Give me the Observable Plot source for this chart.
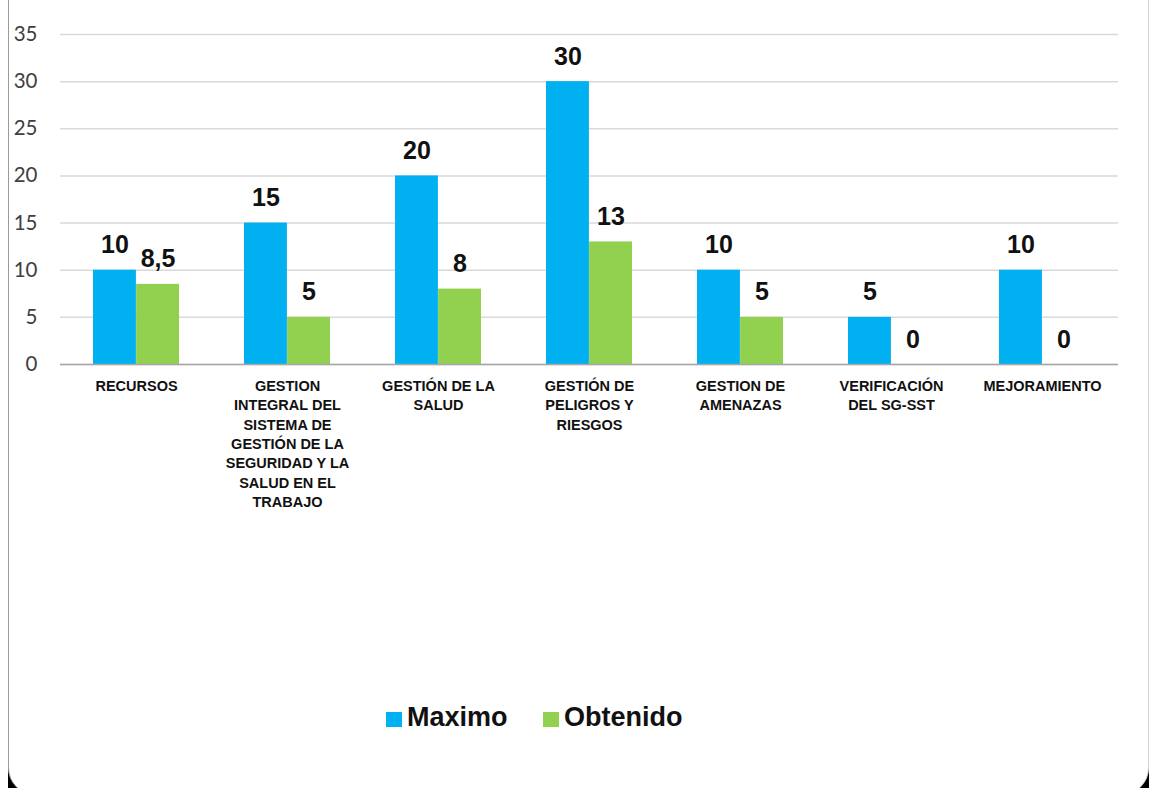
<!DOCTYPE html>
<html>
<head>
<meta charset="utf-8">
<script src="https://cdn.jsdelivr.net/npm/d3@7"></script>
<script src="https://cdn.jsdelivr.net/npm/@observablehq/plot@0.6"></script>
<style>
  html, body { margin: 0; padding: 0; background: #fff; }
  body { width: 1149px; height: 788px; position: relative; overflow: hidden; }
  #backdrop { position: absolute; left: 8px; top: 0; width: 1141px; height: 788px; background: #000; }
  #frame { position: absolute; left: 8px; top: -40px; width: 1139px; height: 834px; background: #fff;
           border-left: 1.5px solid #9a9a9a; border-right: 1.5px solid #d0d0d0; border-radius: 0 0 26px 26px; }
  #chart { position: absolute; left: 0; top: 0; }
  #legend { position: absolute; left: 0; top: 700px; width: 1149px; height: 34px; font-family: "Liberation Sans", Arial, sans-serif;
            font-weight: bold; font-size: 27px; color: #111; }
  .item { position: absolute; top: 0; display: flex; align-items: center; height: 34px; }
  .sw { width: 16px; height: 15px; margin-right: 5px; margin-top: 4px; }
</style>
</head>
<body>
<div id="backdrop"></div>
<div id="frame"></div>
<div id="chart"></div>
<div id="legend">
  <div class="item" style="left:386px"><span class="sw" style="background:#00B0F0"></span><span>Maximo</span></div>
  <div class="item" style="left:543px"><span class="sw" style="background:#92D050"></span><span>Obtenido</span></div>
</div>
<script>
const categories = [
  "RECURSOS",
  "GESTION INTEGRAL DEL SISTEMA DE GESTIÓN DE LA SEGURIDAD Y LA SALUD EN EL TRABAJO",
  "GESTIÓN DE LA SALUD",
  "GESTIÓN DE PELIGROS Y RIESGOS",
  "GESTION DE AMENAZAS",
  "VERIFICACIÓN DEL SG-SST",
  "MEJORAMIENTO"
];
const tickLabels = [
  "RECURSOS",
  "GESTION\nINTEGRAL DEL\nSISTEMA DE\nGESTIÓN DE LA\nSEGURIDAD Y LA\nSALUD EN EL\nTRABAJO",
  "GESTIÓN DE LA\nSALUD",
  "GESTIÓN DE\nPELIGROS Y\nRIESGOS",
  "GESTION DE\nAMENAZAS",
  "VERIFICACIÓN\nDEL SG-SST",
  "MEJORAMIENTO"
];
const maximo = [10, 15, 20, 30, 10, 5, 10];
const obtenido = [8.5, 5, 8, 13, 5, 0, 0];
const yTicks = [0, 5, 10, 15, 20, 25, 30, 35];

const colors = { Maximo: "#00B0F0", Obtenido: "#92D050" };
const maxRows = categories.map((c, i) => ({ cat: c, value: maximo[i] }));
const obtRows = categories.map((c, i) => ({ cat: c, value: obtenido[i] }));
const fmt = v => String(v).replace(".", ",");

const chart = Plot.plot({
  width: 1149,
  height: 520,
  marginLeft: 60,
  marginRight: 31,
  marginTop: 34,
  marginBottom: 156,
  style: { fontFamily: "Liberation Sans, Arial, sans-serif", background: "transparent", overflow: "visible" },
  x: { domain: categories, paddingInner: 0.43, paddingOuter: 0.215, label: null },
  y: { domain: [0, 35], label: null },
  marks: [
    Plot.gridY(yTicks, { stroke: "#d9d9d9", strokeOpacity: 1, strokeWidth: 1.5 }),
    Plot.barY(maxRows, { x: "cat", y: "value", fill: colors.Maximo, insetRight: 43.1 }),
    Plot.barY(obtRows, { x: "cat", y: "value", fill: colors.Obtenido, insetLeft: 43.1 }),
    Plot.ruleY([0], { stroke: "#a6a6a6", strokeWidth: 1.5 }),
    Plot.text(maxRows, { x: "cat", y: "value", text: d => fmt(d.value), dx: -21.5, dy: -17, lineAnchor: "bottom",
      fontSize: 25, fontWeight: "bold", fill: "#111" }),
    Plot.text(obtRows, { x: "cat", y: "value", text: d => fmt(d.value), dx: 21.5, dy: -17, lineAnchor: "bottom",
      fontSize: 25, fontWeight: "bold", fill: "#111" }),
    Plot.axisY(yTicks, { tickSize: 0, tickPadding: 23, fontSize: 20.5, fill: "#404040",
      fontFamily: "Lato, Open Sans, sans-serif", label: null }),
    Plot.axisX({ tickSize: 0, tickPadding: 13, fontSize: 14.5, fontWeight: "bold", fill: "#111",
      lineHeight: 1.33, tickFormat: d => tickLabels[categories.indexOf(d)], label: null })
  ]
});
document.getElementById("chart").appendChild(chart);
</script>
</body>
</html>
